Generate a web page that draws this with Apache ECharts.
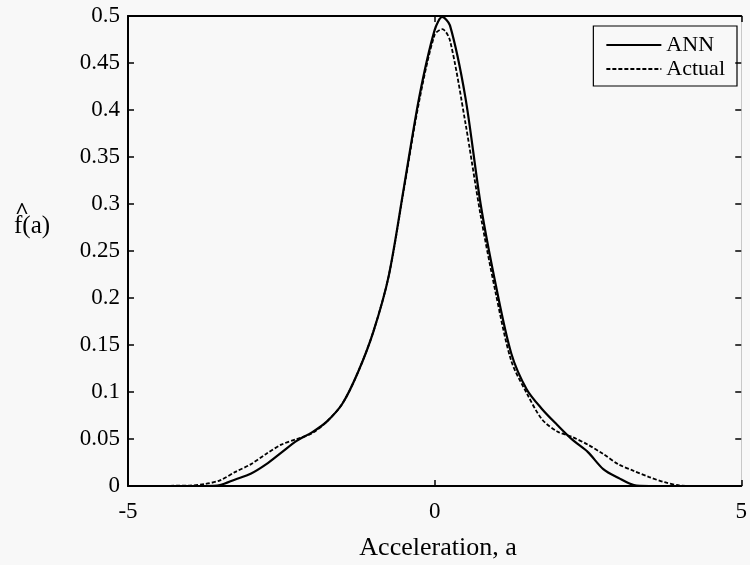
<!DOCTYPE html>
<html>
<head>
<meta charset="utf-8">
<style>
  html, body { margin: 0; padding: 0; background: #f8f8f8; }
  #chart { width: 750px; height: 565px; }
</style>
<script src="https://cdn.jsdelivr.net/npm/echarts@6/dist/echarts.min.js"></script>
</head>
<body>
<div id="chart"></div>
<script>
// Acceleration grid (a) shared by both density curves
var accel = [-5, -4, -3.75, -3.5, -3.25, -3, -2.75, -2.5, -2.25, -2, -1.75, -1.5, -1.25, -1,
  -0.75, -0.5, -0.25, 0, 0.125, 0.25, 0.5, 0.75, 1, 1.25, 1.5, 1.75, 2, 2.25, 2.5, 2.75,
  3, 3.25, 3.5, 3.75, 4, 4.25, 5];

// Estimated density from the neural network
var annDensity = [0, 0, 0, 0.001, 0.007, 0.013, 0.023, 0.0355, 0.048, 0.057, 0.069, 0.088, 0.121, 0.164,
  0.223, 0.318, 0.414, 0.485, 0.499, 0.49, 0.414, 0.30, 0.213, 0.141, 0.103, 0.082, 0.065, 0.049, 0.036, 0.018,
  0.0085, 0.001, 0, 0, 0, 0, 0];

// Actual density
var actualDensity = [0, 0.0005, 0.002, 0.006, 0.015, 0.023, 0.034, 0.044, 0.050, 0.056, 0.069, 0.088, 0.121, 0.164,
  0.223, 0.316, 0.41, 0.48, 0.486, 0.474, 0.387, 0.288, 0.204, 0.133, 0.099, 0.071, 0.058, 0.052, 0.044, 0.034,
  0.023, 0.016, 0.0095, 0.004, 0.0005, 0, 0];

var xTicks = [-5, 0, 5];
var seriesNames = ['ANN', 'Actual'];

function pairs(xs, ys) {
  return xs.map(function (x, i) { return [x, ys[i]]; });
}

var serif = 'Liberation Serif';
var hidden = 'rgba(0,0,0,0)';
var chart = echarts.init(document.getElementById('chart'), null, { renderer: 'canvas' });

var tickStyle = { inside: true, length: 6, lineStyle: { color: '#000', width: 1.5 } };

chart.setOption({
  backgroundColor: '#f8f8f8',
  animation: false,
  grid: { left: 128, top: 16, right: 1, bottom: 79 },
  legend: {
    data: seriesNames,
    orient: 'vertical',
    right: 13,
    top: 26,
    itemWidth: 55,
    itemHeight: 10,
    itemGap: 2,
    padding: [8, 12, 6, 12],
    borderColor: '#000',
    borderWidth: 1.2,
    itemStyle: { color: hidden, borderWidth: 0 },
    textStyle: { fontFamily: serif, fontSize: 22, color: '#000' }
  },
  xAxis: [{
    type: 'value',
    min: -5, max: 5, interval: 5,
    axisLine: { onZero: false, lineStyle: { color: '#000', width: 2 } },
    axisTick: tickStyle,
    axisLabel: { margin: 14, fontFamily: serif, fontSize: 23, color: '#000',
      formatter: function (v) { return xTicks.indexOf(v) >= 0 ? String(v) : ''; } },
    splitLine: { show: false }
  }, {
    type: 'value', position: 'top',
    min: -5, max: 5, interval: 5,
    axisLine: { onZero: false, lineStyle: { color: '#000', width: 2 } },
    axisTick: tickStyle,
    axisLabel: { show: false },
    splitLine: { show: false }
  }],
  yAxis: [{
    type: 'value',
    min: 0, max: 0.5, interval: 0.05,
    axisLine: { show: true, onZero: false, lineStyle: { color: '#000', width: 2 } },
    axisTick: tickStyle,
    axisLabel: { margin: 8, fontFamily: serif, fontSize: 23, color: '#000',
      formatter: function (v) { return String(+v.toFixed(2)); } },
    splitLine: { show: false }
  }, {
    type: 'value', position: 'right',
    min: 0, max: 0.5, interval: 0.05,
    axisLine: { show: true, onZero: false, lineStyle: { color: '#c8c8c8', width: 1 } },
    axisTick: tickStyle,
    axisLabel: { show: false },
    splitLine: { show: false }
  }],
  graphic: [
    { type: 'text', left: 14, top: 214,
      style: { text: 'f(a)', font: '25px "Liberation Serif"', fill: '#000' } },
    { type: 'text', left: 15, top: 200,
      style: { text: '^', font: 'bold 24px "Liberation Serif"', fill: '#000' } },
    { type: 'text', x: 438, y: 548,
      style: { text: 'Acceleration, a', font: '26px "Liberation Serif"', fill: '#000',
        align: 'center', verticalAlign: 'middle' } }
  ],
  series: [{
    name: seriesNames[0],
    type: 'line',
    data: pairs(accel, annDensity),
    smooth: 0.3,
    symbol: 'none',
    lineStyle: { color: '#000', width: 2.2, type: 'solid' },
    itemStyle: { color: hidden }
  }, {
    name: seriesNames[1],
    type: 'line',
    data: pairs(accel, actualDensity),
    smooth: 0.3,
    symbol: 'none',
    lineStyle: { color: '#000', width: 1.8, type: [4, 2] },
    itemStyle: { color: hidden }
  }]
});
</script>
</body>
</html>
